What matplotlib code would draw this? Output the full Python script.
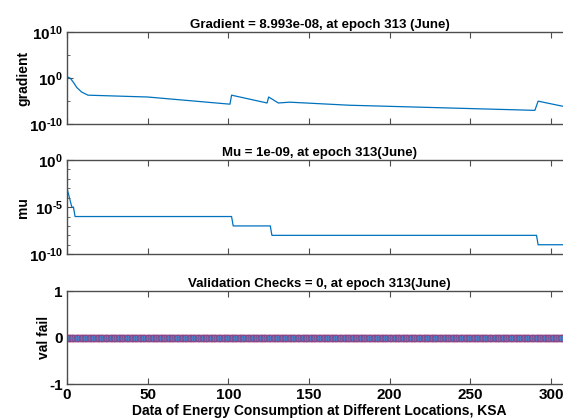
#! /usr/bin/env python3
"""
Training state plot: gradient, mu and validation checks per epoch.
"""
import matplotlib
matplotlib.use('Agg')
import matplotlib.pyplot as plt

# gradient: (epoch, value)
grad_epochs = [0, 2, 4, 6, 9, 13, 50, 101, 102, 124, 125, 131, 138, 175, 290, 292, 313]
grad_values = [2.0, 1.0, 0.12, 1e-2, 1e-3, 2e-4, 8e-5, 2.2e-6, 2e-4, 4e-6, 8e-5, 4e-6, 6e-6,
               1.3e-6, 1e-7, 1e-5, 3e-7]

# mu steps
mu_epochs = [0, 3, 4, 5, 102, 103, 126, 127, 291, 292, 313]
mu_values = [1e-3, 1e-5, 1e-5, 1e-6, 1e-6, 1e-7, 1e-7, 1e-8, 1e-8, 1e-9, 1e-9]

# validation failures, one per epoch
val_epochs = list(range(314))
val_fail = [0] * 314

x_ticks = [0, 50, 100, 150, 200, 250, 300]

titles = ["Gradient = 8.993e-08, at epoch 313 (June)",
          "Mu = 1e-09, at epoch 313(June)",
          "Validation Checks = 0, at epoch 313(June)"]
ylabels = ["gradient", "mu", "val fail"]
xlabel = "Data of Energy Consumption at Different Locations, KSA"

BLUE = '#0072BD'
GREY = '#4d4d4d'

plt.rcParams['font.family'] = ['Liberation Sans', 'DejaVu Sans']
plt.rcParams['font.weight'] = 'bold'
plt.rcParams['axes.unicode_minus'] = False
plt.rcParams['mathtext.fontset'] = 'custom'
plt.rcParams['mathtext.bf'] = 'Liberation Sans:bold'
plt.rcParams['mathtext.rm'] = 'Liberation Sans:bold'


def style_axes(ax):
    for s in ax.spines.values():
        s.set_color(GREY)
        s.set_linewidth(1.0)
    ax.tick_params(which='both', direction='in', top=True, right=True,
                   color=GREY, labelsize=11, pad=3)
    ax.tick_params(which='major', length=4)
    ax.tick_params(which='minor', length=2.5)
    ax.set_xlim(0, 313)
    ax.set_xticks(x_ticks)


fig = plt.figure(figsize=(5.63, 4.18), dpi=100)
left = 67 / 563
width = 505 / 563
ax1 = fig.add_axes([left, 0.703, width, 0.220])
ax2 = fig.add_axes([left, 0.392, width, 0.225])
ax3 = fig.add_axes([left, 0.081, width, 0.222])

# gradient
ax1.semilogy(grad_epochs, grad_values, color=BLUE, lw=0.9)
ax1.set_ylim(1e-10, 1e10)
ax1.set_yticks([1e-10, 1, 1e10])
ax1.set_yticklabels([r'$\mathbf{10^{\text{-}10}}$', r'$\mathbf{10^{0}}$', r'$\mathbf{10^{10}}$'])
ax1.set_yticks([1e-5, 1e5], minor=True)
ax1.set_yticklabels([], minor=True)

# mu
ax2.semilogy(mu_epochs, mu_values, color=BLUE, lw=0.9)
ax2.set_ylim(1e-10, 1)
ax2.set_yticks([1e-10, 1e-5, 1])
ax2.set_yticklabels([r'$\mathbf{10^{\text{-}10}}$', r'$\mathbf{10^{\text{-}5}}$', r'$\mathbf{10^{0}}$'])
ax2.set_yticks([10.0 ** -k for k in (1, 2, 3, 4, 6, 7, 8, 9)], minor=True)
ax2.set_yticklabels([], minor=True)

# validation checks
ax3.plot(val_epochs, val_fail, color=BLUE, lw=1, marker='o', ms=5,
         mfc='#3f8fd8', mec='#a03070', mew=0.5)
ax3.set_ylim(-1, 1)
ax3.set_yticks([-1, 0, 1])

for ax, t, yl in zip([ax1, ax2, ax3], titles, ylabels):
    style_axes(ax)
    ax.set_title(t, fontsize=9.5, fontweight='bold', pad=3)
    ax.set_ylabel(yl, fontsize=10, fontweight='bold', labelpad=-1)
ax1.tick_params(labelbottom=False)
ax2.tick_params(labelbottom=False)
ax3.set_xlabel(xlabel, fontsize=10, fontweight='bold', labelpad=1)

fig.savefig('out.png', dpi=100)
